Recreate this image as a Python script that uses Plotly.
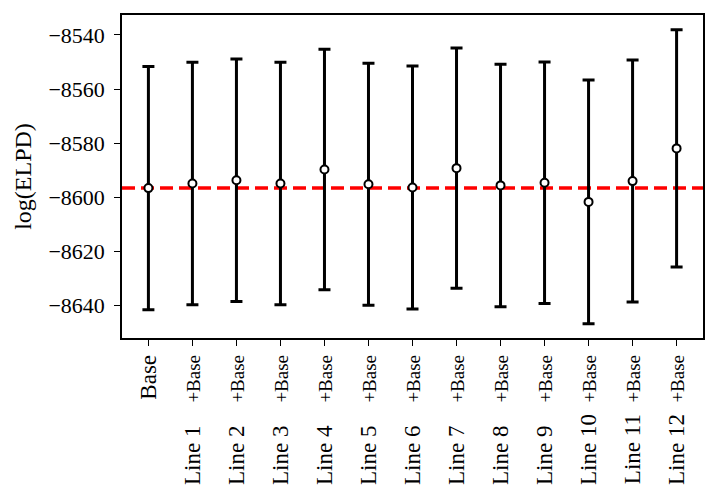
import plotly.graph_objects as go

# ── Data ────────────────────────────────────────────────────────────────────
MODELS = ["Base"] + [f"Line {i}" for i in range(1, 13)]
ELPD = [-8596.7, -8595.0, -8593.8, -8595.0, -8589.8, -8595.3, -8596.5,
        -8589.3, -8595.7, -8594.7, -8601.8, -8594.1, -8582.0]
ELPD_SE = [45.0, 44.9, 44.9, 44.9, 44.5, 44.8, 45.0,
           44.5, 44.9, 44.7, 45.1, 44.8, 43.9]
Y_TICKS = [-8640, -8620, -8600, -8580, -8560, -8540]

FONT = "Liberation Serif"
SP = "\u00a0"


def _label(name):
    # pad single-digit names so every "Line N" starts at the same place
    pad = SP * (4 if len(name) < 7 else 2)
    return f"{name}{pad}<span style='font-size:19px'>+Base</span>"


x_pos = list(range(len(MODELS)))
tick_text = [MODELS[0]] + [_label(m) for m in MODELS[1:]]

fig = go.Figure(go.Scatter(
    x=x_pos, y=ELPD,
    mode="markers",
    marker=dict(symbol="circle", size=8, color="white",
                line=dict(color="black", width=2)),
    error_y=dict(type="data", array=ELPD_SE, symmetric=True,
                 color="black", thickness=3, width=6),
    showlegend=False,
))

# baseline reference: ELPD of the base model
fig.add_shape(type="line", xref="paper", x0=0, x1=1, yref="y",
              y0=ELPD[0], y1=ELPD[0],
              line=dict(color="red", width=3.5, dash="13px,6px"), layer="below")

# page body adds ~8px offset, so margins are compensated
fig.update_layout(
    width=718, height=497,
    paper_bgcolor="white", plot_bgcolor="white",
    margin=dict(l=114, r=23, t=7, b=167, autoexpand=False),
    font=dict(family=FONT, size=22, color="black"),
)
fig.update_xaxes(
    range=[-0.6, 12.6], tickvals=x_pos, ticktext=tick_text, tickangle=-90,
    showgrid=False, zeroline=False, showline=True, linecolor="black",
    linewidth=1.5, mirror=True, ticks="outside", ticklen=6, tickwidth=1.2,
    tickcolor="black", automargin=False, tickfont=dict(size=23),
)
fig.update_yaxes(
    range=[-8652.2, -8532.6], tickvals=Y_TICKS,
    ticktext=[f"\u2212{abs(v)}" for v in Y_TICKS],
    showgrid=False, zeroline=False, showline=True, linecolor="black",
    linewidth=1.5, mirror=True, ticks="outside", ticklen=6, tickwidth=1.2,
    tickcolor="black", automargin=False, ticklabelstandoff=5,
    title=dict(text="log(ELPD)", standoff=10, font=dict(size=24)),
)

fig.write_html("out.html")
